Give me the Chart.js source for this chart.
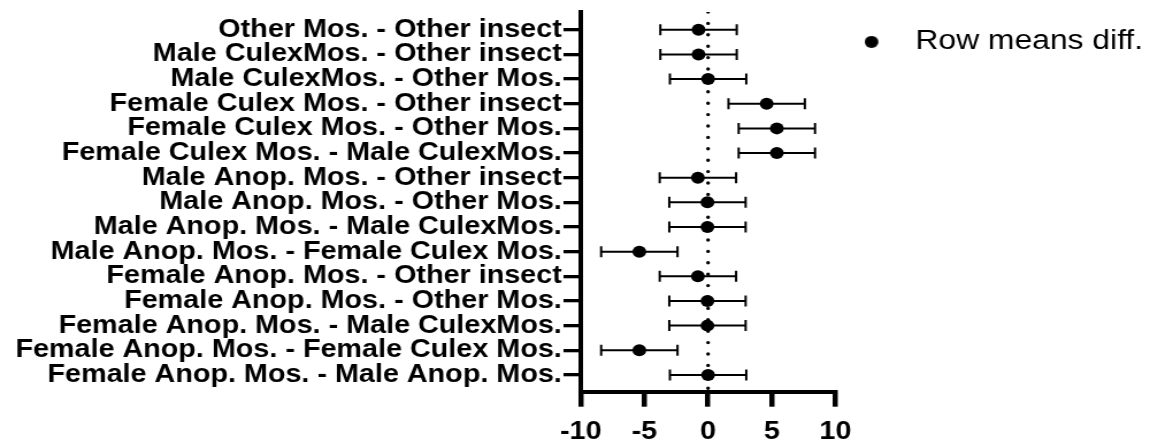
<!DOCTYPE html>
<html>
<head>
<meta charset="utf-8">
<script src="https://cdn.jsdelivr.net/npm/chart.js@4.4.1/dist/chart.umd.min.js"></script>
<style>
  html, body { margin: 0; padding: 0; background: #fff; }
  #wrap { width: 1150px; height: 448px; overflow: hidden; }
  /* the picture is a little wider than tall, so the canvas is stretched */
  #diffChart { width: 1150px !important; height: 448px !important; }
</style>
</head>
<body>
<div id="wrap"><canvas id="diffChart" width="1000" height="448"></canvas></div>
<script>
// Filas de comparaciones (de arriba a abajo)
const categories = [
    'Other Mos. - Other insect',
    'Male CulexMos. - Other insect',
    'Male CulexMos. - Other Mos.',
    'Female Culex Mos. - Other insect',
    'Female Culex Mos. - Other Mos.',
    'Female Culex Mos. - Male CulexMos.',
    'Male Anop. Mos. - Other insect',
    'Male Anop. Mos. - Other Mos.',
    'Male Anop. Mos. - Male CulexMos.',
    'Male Anop. Mos. - Female Culex Mos.',
    'Female Anop. Mos. - Other insect',
    'Female Anop. Mos. - Other Mos.',
    'Female Anop. Mos. - Male CulexMos.',
    'Female Anop. Mos. - Female Culex Mos.',
    'Female Anop. Mos. - Male Anop. Mos.'
];
const rowMeans = [-0.75, -0.75, 0.0, 4.6, 5.4, 5.4, -0.8, -0.05, -0.05, -5.4, -0.8, -0.05, -0.05, -5.4, 0.0];
const lowerCI  = [-3.75, -3.75, -3.0, 1.6, 2.4, 2.4, -3.8, -3.05, -3.05, -8.4, -3.8, -3.05, -3.05, -8.4, -3.0];
const upperCI  = [2.25, 2.25, 3.0, 7.6, 8.4, 8.4, 2.2, 2.95, 2.95, -2.4, 2.2, 2.95, 2.95, -2.4, 3.0];
const xTicks = [-10, -5, 0, 5, 10];
const legendLabel = 'Row means diff.';

const yMin = -0.72;
const yMax = 14.68;
const fontFamily = '"Liberation Sans", Arial, Helvetica, sans-serif';

// marcador de la leyenda: punto negro corrido a la izquierda de su caja
function legendDot() {
    const c = document.createElement('canvas');
    c.width = 33;
    c.height = 12;
    const g = c.getContext('2d');
    g.fillStyle = '#000';
    g.beginPath();
    g.arc(6, 6, 6, 0, Math.PI * 2);
    g.fill();
    return c;
}

document.addEventListener('DOMContentLoaded', () => {
    const ctx = document.getElementById('diffChart').getContext('2d');

    const whiskerData = categories.flatMap((c, i) => [
        {x: lowerCI[i], y: i},
        {x: upperCI[i], y: i},
        {x: upperCI[i], y: null}
    ]);
    const capData = categories.flatMap((c, i) => [
        {x: lowerCI[i], y: i},
        {x: upperCI[i], y: i}
    ]);
    const meanData = categories.map((c, i) => ({x: rowMeans[i], y: i}));

    const chart = new Chart(ctx, {
        type: 'scatter',
        data: {
            datasets: [
                {
                    type: 'line',
                    label: 'zero',
                    data: [{x: 0, y: yMin}, {x: 0, y: yMax}],
                    borderColor: '#000',
                    borderWidth: 3.4,
                    borderDash: [0, 11.4],
                    borderCapStyle: 'round',
                    pointRadius: 0,
                    order: 3
                },
                {
                    type: 'line',
                    label: 'ci',
                    data: whiskerData,
                    borderColor: '#000',
                    borderWidth: 2,
                    pointRadius: 0,
                    spanGaps: false,
                    order: 2
                },
                {
                    label: 'caps',
                    data: capData,
                    pointStyle: 'line',
                    rotation: 90,
                    pointRadius: 5.5,
                    borderColor: '#000',
                    borderWidth: 2,
                    order: 2
                },
                {
                    label: legendLabel,
                    data: meanData,
                    pointStyle: 'circle',
                    pointRadius: 6,
                    backgroundColor: '#000',
                    borderColor: '#000',
                    borderWidth: 0,
                    order: 1
                }
            ]
        },
        options: {
            responsive: false,
            devicePixelRatio: 1,
            animation: false,
            events: [],
            layout: {
                padding: {left: 0, top: 12, right: -4, bottom: -8.7}
            },
            plugins: {
                tooltip: {enabled: false},
                legend: {
                    position: 'right',
                    align: 'start',
                    maxWidth: 320,
                    labels: {
                        filter: item => item.text === legendLabel,
                        usePointStyle: true,
                        pointStyle: legendDot(),
                        boxHeight: 8.5,
                        padding: 16,
                        color: '#000',
                        font: {family: fontFamily, size: 27.7}
                    }
                }
            },
            scales: {
                x: {
                    type: 'linear',
                    min: -10,
                    max: 10,
                    afterBuildTicks: s => { s.ticks = xTicks.map(v => ({value: v})); },
                    ticks: {
                        callback: v => String(v),
                        color: '#000',
                        padding: 12.5,
                        maxRotation: 0,
                        font: {family: fontFamily, size: 25, weight: 'bold', lineHeight: 1}
                    },
                    grid: {drawOnChartArea: false, tickLength: 15, lineWidth: 4.5, color: '#000'},
                    border: {width: 4, color: '#000'}
                },
                y: {
                    type: 'linear',
                    reverse: true,
                    min: yMin,
                    max: yMax,
                    afterBuildTicks: s => { s.ticks = categories.map((c, i) => ({value: i})); },
                    afterFit: s => { s.width = 505; s.paddingTop = 0; s.paddingBottom = 0; },
                    ticks: {
                        callback: v => categories[v],
                        autoSkip: false,
                        color: '#000',
                        padding: 1.5,
                        font: {family: fontFamily, size: 25, weight: 'bold', lineHeight: 1}
                    },
                    grid: {drawOnChartArea: false, tickLength: 15, lineWidth: 3.3, color: '#000'},
                    border: {width: 4, color: '#000'}
                },
                gap: {
                    type: 'linear',
                    position: 'right',
                    ticks: {display: false},
                    grid: {display: false},
                    border: {display: false},
                    afterFit: s => { s.width = 12; }
                }
            }
        }
    });
});
</script>
</body>
</html>
